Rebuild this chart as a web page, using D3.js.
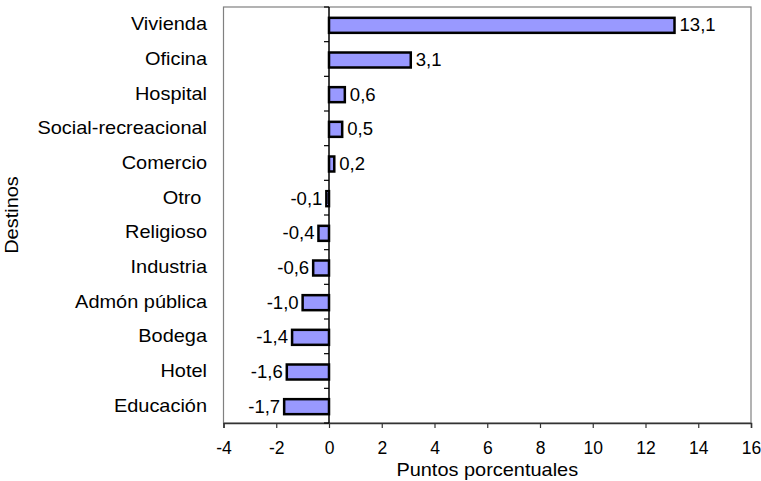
<!DOCTYPE html>
<html><head><meta charset="utf-8">
<script src="https://cdn.jsdelivr.net/npm/d3@7"></script>
<style>body{margin:0;background:#fff;} svg{display:block;} text{font-family:"Liberation Sans",Arial,sans-serif;}</style>
</head><body>
<script>
const categories = ["Vivienda","Oficina","Hospital","Social-recreacional","Comercio","Otro\u00a0","Religioso","Industria","Admón pública","Bodega","Hotel","Educación"];
const values = [13.1,3.1,0.6,0.5,0.2,-0.1,-0.4,-0.6,-1.0,-1.4,-1.6,-1.7];
const xTicks = [-4,-2,0,2,4,6,8,10,12,14,16];

const W=761,H=481;
const m={left:223.5,right:751,top:7,bottom:423};
const FS=17.5, SX=1.14;
const svg=d3.select("body").append("svg").attr("width",W).attr("height",H);
const x=d3.scaleLinear().domain([-4,16]).range([m.left,m.right]);
const y=d3.scaleBand().domain(categories).range([m.top,m.bottom]).paddingInner(0).paddingOuter(0);
const fmt=v=>v.toFixed(1).replace(".",",");

// frame
svg.append("rect").attr("x",m.left).attr("y",m.top).attr("width",m.right-m.left).attr("height",m.bottom-m.top)
  .attr("fill","none").attr("stroke","#808080").attr("stroke-width",1.2);

// bottom axis
const xa=svg.append("g").attr("transform",`translate(0,${m.bottom})`)
  .call(d3.axisBottom(x).tickValues(xTicks).tickSize(5).tickFormat(d=>d));
xa.select(".domain").attr("stroke","#333").attr("stroke-width",1.5);
xa.selectAll(".tick line").attr("stroke","#333").attr("stroke-width",1.2);
xa.selectAll(".tick text").attr("font-size",FS).attr("fill","#000").attr("y",25).attr("dy","0.35em").attr("font-family","Liberation Sans, Arial, sans-serif");

// vertical category axis at zero
const step=y.step();
svg.append("line").attr("x1",x(0)).attr("x2",x(0)).attr("y1",m.top).attr("y2",m.bottom).attr("stroke","#000").attr("stroke-width",1.5);
d3.range(categories.length+1).forEach(i=>{
  const yy=m.top+i*step;
  svg.append("line").attr("x1",x(0)-5).attr("x2",x(0)).attr("y1",yy).attr("y2",yy).attr("stroke","#000").attr("stroke-width",1.2);
});

// category labels (slightly stretched horizontally)
svg.append("g").selectAll("text").data(categories).join("text")
  .attr("transform",d=>`translate(207,${y(d)+step/2}) scale(${SX},1)`)
  .attr("dy","0.35em").attr("text-anchor","end")
  .attr("font-size",FS).attr("fill","#000").text(d=>d);

// bars
const bh=15;
const data=categories.map((c,i)=>({c,v:values[i]}));
svg.append("g").selectAll("rect").data(data).join("rect")
  .attr("x",d=>Math.min(x(0),x(d.v)))
  .attr("y",d=>y(d.c)+step/2-bh/2+1)
  .attr("width",d=>Math.abs(x(d.v)-x(0)))
  .attr("height",bh)
  .attr("fill","#9999FF").attr("stroke","#000").attr("stroke-width",2.5);

// value labels
svg.append("g").selectAll("text").data(data).join("text")
  .attr("transform",d=>`translate(${d.v>=0? x(d.v)+5 : x(d.v)-4},${y(d.c)+step/2+1}) scale(1.06,1)`)
  .attr("dy","0.35em")
  .attr("text-anchor",d=>d.v>=0?"start":"end")
  .attr("font-size",FS).attr("fill","#000").text(d=>fmt(d.v));

// axis titles
svg.append("text").attr("transform",`translate(${(m.left+m.right)/2},476) scale(${SX},1)`).attr("text-anchor","middle").attr("font-size",FS).text("Puntos porcentuales");
svg.append("text").attr("transform",`translate(18,${(m.top+m.bottom)/2}) rotate(-90) scale(${SX},1)`).attr("text-anchor","middle").attr("font-size",FS).text("Destinos");
</script>
</body></html>
